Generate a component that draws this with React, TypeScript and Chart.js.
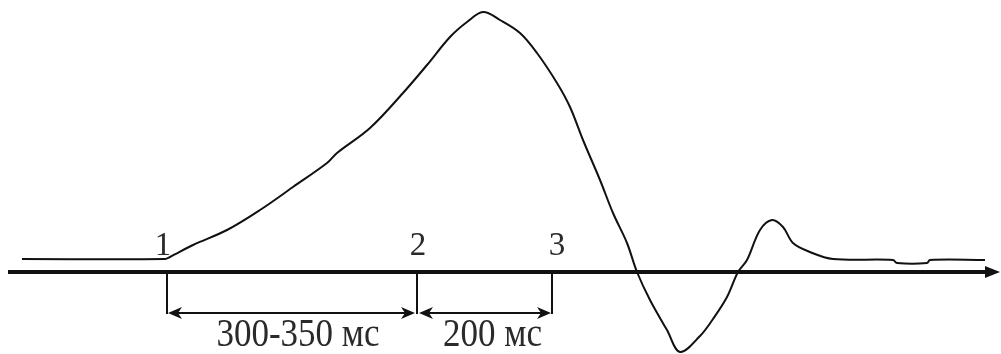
import React, { useEffect, useRef } from "react";
import { Chart, registerables } from "chart.js";

Chart.register(...registerables);

// Time axis (arbitrary units) and signal amplitude (axis = 0)
const timePoints = [22, 165, 170, 193, 227, 260, 293, 327, 337, 370, 403, 427, 450, 467, 483, 500, 520, 537, 557, 570, 583, 600, 613, 627, 637, 650, 667, 680, 700, 713, 727, 738, 747, 760, 772, 783, 793, 810, 833, 893, 897, 927, 930, 985];
const amplitude = [13, 13, 15, 27, 42, 62, 85, 109, 119, 144, 179, 207, 235, 250, 260, 252, 239, 219, 189, 165, 132, 92, 59, 29, 0, -28, -58, -80, -64, -47, -25, 0, 12, 42, 52, 45, 29, 20, 13, 12, 9, 9, 12, 12];

const markerTimes = [167, 417, 552];
const markerLabels = ["1", "2", "3"];
const spanLabels = ["300-350 мс", "200 мс"];

const axisStart = 8;
const axisEnd = 1000;
const yMin = -82;
const yMax = 272;

export default function App() {
  const ref = useRef<HTMLCanvasElement | null>(null);

  useEffect(() => {
    document.body.style.margin = "0";
    const canvas = ref.current;
    if (!canvas) return;

    const overlay = {
      id: "overlay",
      afterDatasetsDraw(chart: any) {
        const ctx = chart.ctx as CanvasRenderingContext2D;
        const xs = chart.scales.x;
        const ys = chart.scales.y;
        const y0 = ys.getPixelForValue(0);
        const dimY = ys.getPixelForValue(-41);
        ctx.save();
        ctx.strokeStyle = "#111";
        ctx.fillStyle = "#111";
        // main time axis with arrow
        const ax0 = xs.getPixelForValue(axisStart);
        const ax1 = xs.getPixelForValue(axisEnd);
        ctx.lineWidth = 4;
        ctx.beginPath();
        ctx.moveTo(ax0, y0);
        ctx.lineTo(ax1 - 10, y0);
        ctx.stroke();
        ctx.beginPath();
        ctx.moveTo(ax1, y0);
        ctx.lineTo(ax1 - 15, y0 - 6);
        ctx.lineTo(ax1 - 15, y0 + 6);
        ctx.closePath();
        ctx.fill();

        // vertical marker ticks
        ctx.lineWidth = 2;
        const mx = markerTimes.map((t) => xs.getPixelForValue(t));
        mx.forEach((x) => {
          ctx.beginPath();
          ctx.moveTo(x, y0);
          ctx.lineTo(x, dimY + 1);
          ctx.stroke();
        });

        const arrowHead = (x: number, y: number, dir: number) => {
          ctx.beginPath();
          ctx.moveTo(x, y);
          ctx.lineTo(x - dir * 14, y - 6);
          ctx.lineTo(x - dir * 10, y);
          ctx.lineTo(x - dir * 14, y + 6);
          ctx.closePath();
          ctx.fill();
        };
        // dimension arrows
        const segs = [
          [mx[0] + 1, mx[1] - 2],
          [mx[1] + 2, mx[2] - 1],
        ];
        segs.forEach(([a, b]) => {
          ctx.beginPath();
          ctx.moveTo(a + 6, dimY);
          ctx.lineTo(b - 6, dimY);
          ctx.stroke();
          arrowHead(a, dimY, -1);
          arrowHead(b, dimY, 1);
        });

        // marker labels
        ctx.fillStyle = "#2a2a2a";
        ctx.font = '33px "Liberation Serif", "Times New Roman", serif';
        ctx.textAlign = "center";
        ctx.textBaseline = "alphabetic";
        const labelOffsets = [-4, 1, 5];
        markerLabels.forEach((lab, i) => {
          ctx.fillText(lab, mx[i] + labelOffsets[i], y0 - 17);
        });

        // span labels
        const spanCenters = [(mx[0] + mx[1]) / 2 + 6, (mx[1] + mx[2]) / 2 + 8];
        spanLabels.forEach((lab, i) => {
          ctx.save();
          ctx.translate(spanCenters[i], ys.getPixelForValue(-74));
          ctx.scale(1, 1.12);
          ctx.font = '35px "Liberation Serif", "Times New Roman", serif';
          ctx.fillText(lab, 0, 0);
          ctx.restore();
        });
        ctx.restore();
      },
    };

    const chart = new Chart(canvas, {
      type: "line",
      data: {
        datasets: [
          {
            data: timePoints.map((t, i) => ({ x: t, y: amplitude[i] })),
            borderColor: "#111",
            borderWidth: 2,
            pointRadius: 0,
            tension: 0.35,
            fill: false,
          },
        ],
      },
      options: {
        responsive: false,
        animation: false,
        events: [],
        layout: { padding: 0 },
        plugins: { legend: { display: false }, tooltip: { enabled: false } },
        scales: {
          x: { type: "linear", min: 0, max: 1001, display: false },
          y: { type: "linear", min: yMin, max: yMax, display: false },
        },
      },
      plugins: [overlay],
    });
    return () => chart.destroy();
  }, []);

  return (
    <div style={{ width: 1001, height: 354, background: "#fff" }}>
      <canvas ref={ref} width={1001} height={354} style={{ display: "block" }} />
    </div>
  );
}
